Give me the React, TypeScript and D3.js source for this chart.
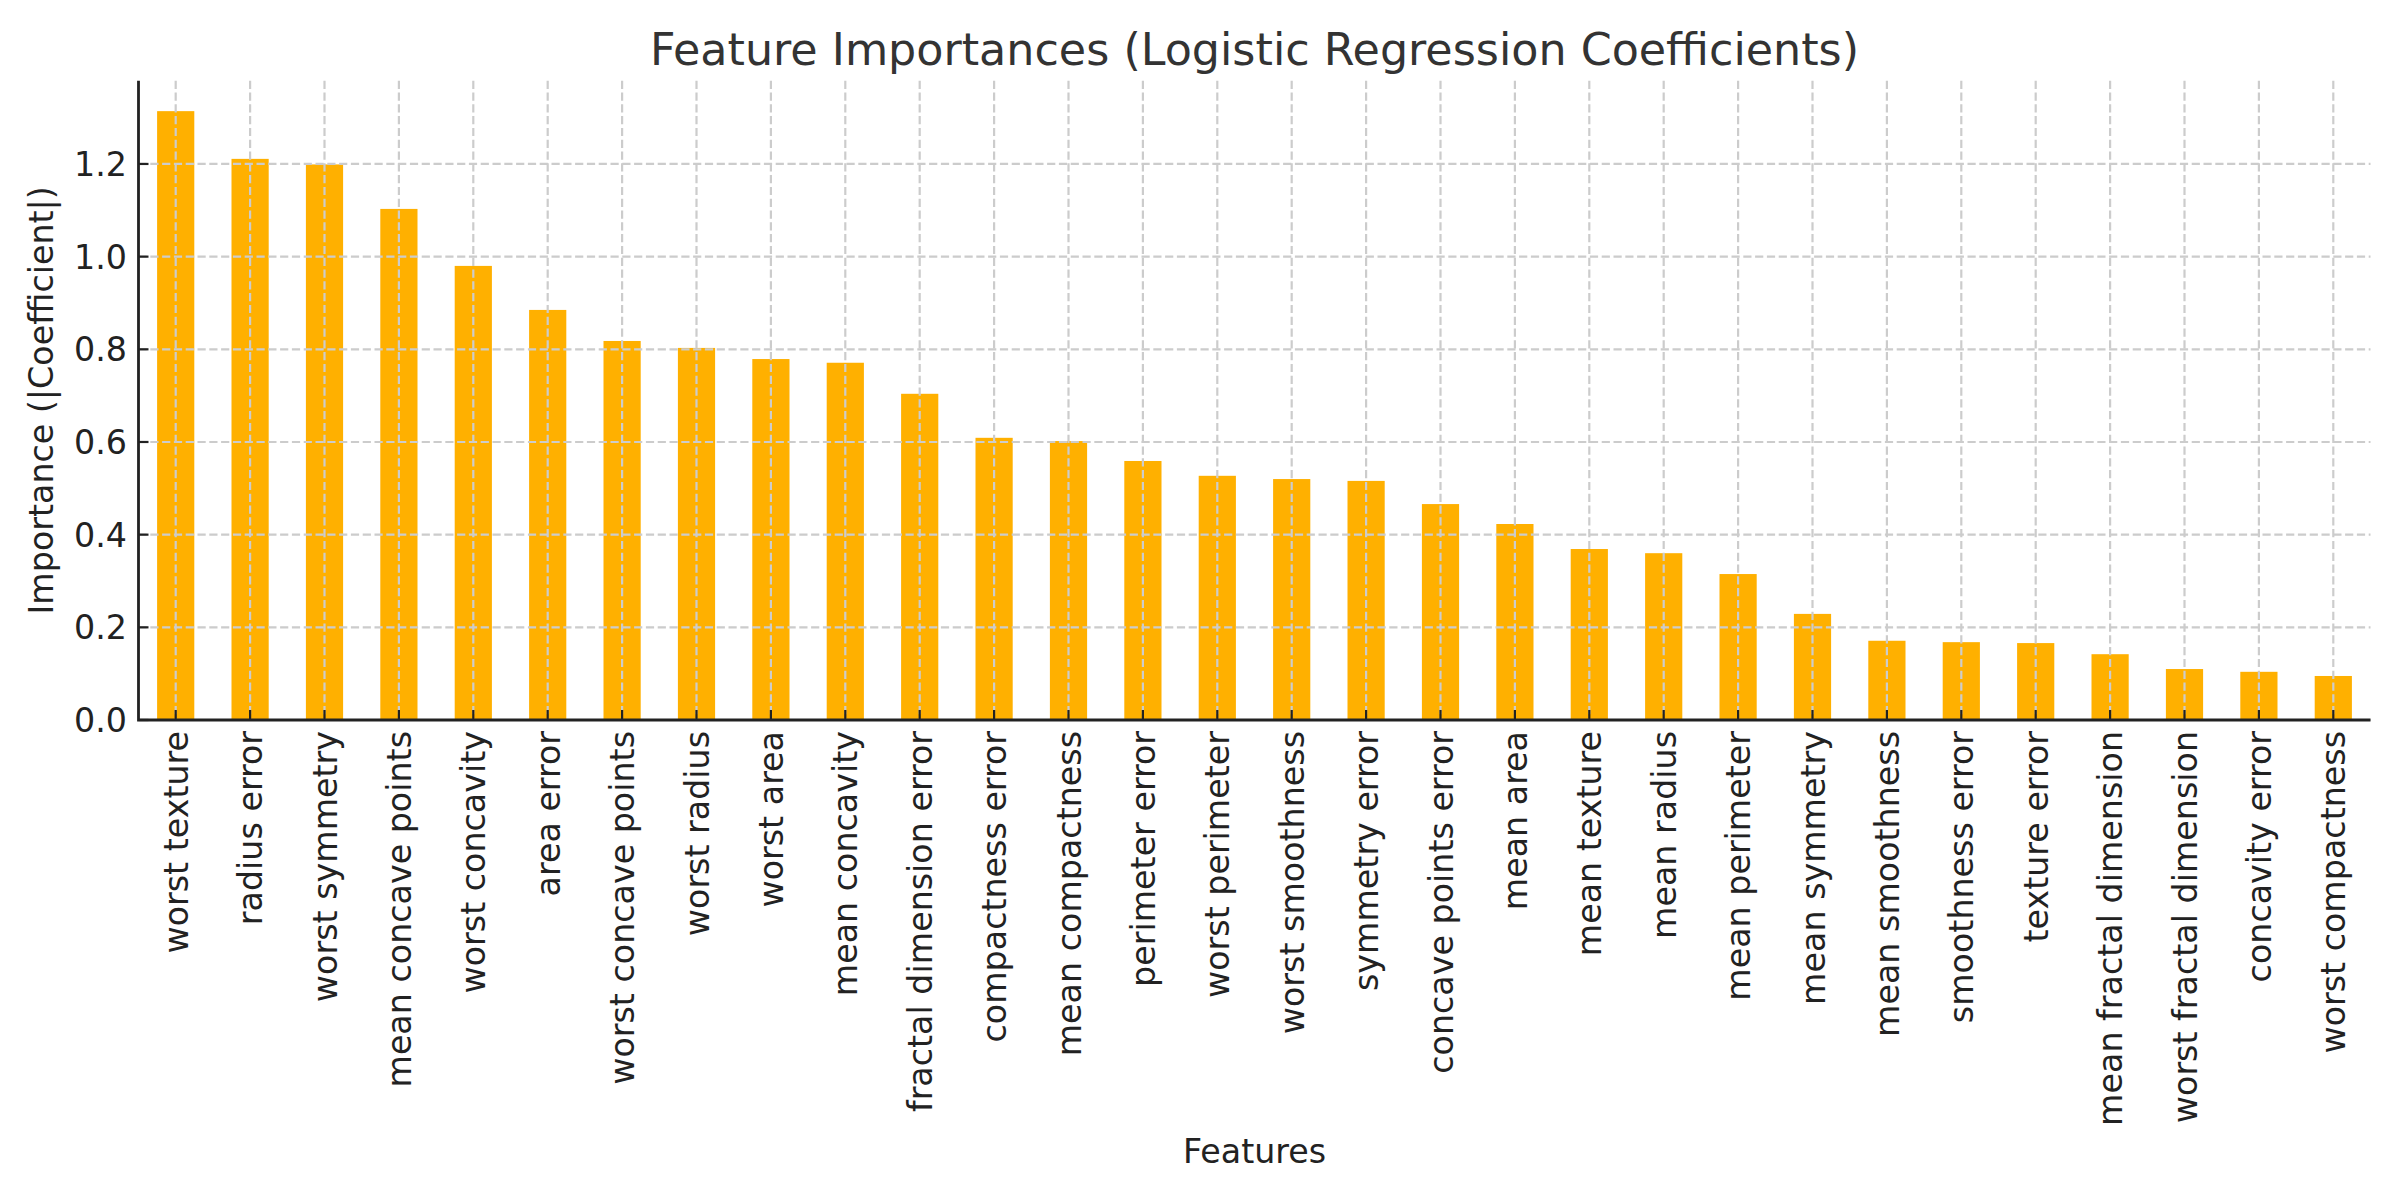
import React, { useEffect, useRef } from "react";
import * as d3 from "d3";

// feature names, sorted by importance
const features = [
  "worst texture",
  "radius error",
  "worst symmetry",
  "mean concave points",
  "worst concavity",
  "area error",
  "worst concave points",
  "worst radius",
  "worst area",
  "mean concavity",
  "fractal dimension error",
  "compactness error",
  "mean compactness",
  "perimeter error",
  "worst perimeter",
  "worst smoothness",
  "symmetry error",
  "concave points error",
  "mean area",
  "mean texture",
  "mean radius",
  "mean perimeter",
  "mean symmetry",
  "mean smoothness",
  "smoothness error",
  "texture error",
  "mean fractal dimension",
  "worst fractal dimension",
  "concavity error",
  "worst compactness",
];

// |coefficient| per feature
const importances = [
  1.314, 1.211, 1.199, 1.103, 0.98, 0.885, 0.818, 0.803, 0.779, 0.771,
  0.704, 0.609, 0.602, 0.559, 0.527, 0.52, 0.516, 0.466, 0.423, 0.369,
  0.36, 0.315, 0.229, 0.171, 0.168, 0.166, 0.142, 0.11, 0.104, 0.095,
];

const yTicks = [0, 0.2, 0.4, 0.6, 0.8, 1.0, 1.2];

const W = 2400;
const H = 1200;
const margin = { left: 138.5, right: 29.5, top: 80.7, bottom: 480 };
const font = "'DejaVu Sans', sans-serif";
const tickSize = 33.3;
const barColor = "#ffb000";
const gridColor = "#cccccc";
const inkColor = "#222222";

export default function App() {
  const ref = useRef<SVGSVGElement>(null);

  useEffect(() => {
    const svg = d3.select(ref.current);
    svg.selectAll("*").remove();

    const x0 = margin.left;
    const x1 = W - margin.right;
    const y0 = H - margin.bottom;
    const y1 = margin.top;

    const x = d3
      .scaleBand<string>()
      .domain(features)
      .range([x0, x1])
      .paddingInner(0.5)
      .paddingOuter(0.25);

    const yMax = (d3.max(importances) as number) * 1.05;
    const y = d3.scaleLinear().domain([0, yMax]).range([y0, y1]);

    const data = features.map((f, i) => ({ name: f, value: importances[i] }));
    const cx = (d: string) => (x(d) as number) + x.bandwidth() / 2;

    // bars
    svg
      .append("g")
      .selectAll("rect")
      .data(data)
      .join("rect")
      .attr("x", d => x(d.name) as number)
      .attr("y", d => y(d.value))
      .attr("width", x.bandwidth())
      .attr("height", d => y0 - y(d.value))
      .attr("fill", barColor);

    // grid (drawn over the bars, like the original)
    const grid = svg
      .append("g")
      .attr("stroke", gridColor)
      .attr("stroke-width", 2.2)
      .attr("stroke-dasharray", "8.2,3.6");

    grid
      .selectAll("line.h")
      .data(yTicks)
      .join("line")
      .attr("class", "h")
      .attr("x1", x0)
      .attr("x2", x1)
      .attr("y1", d => y(d))
      .attr("y2", d => y(d));

    grid
      .selectAll("line.v")
      .data(features)
      .join("line")
      .attr("class", "v")
      .attr("x1", cx)
      .attr("x2", cx)
      .attr("y1", y1)
      .attr("y2", y0);

    // y axis: ticks point inward
    const yAxis = svg.append("g");
    yAxis
      .selectAll("line")
      .data(yTicks)
      .join("line")
      .attr("x1", x0)
      .attr("x2", x0 + 10)
      .attr("y1", d => y(d))
      .attr("y2", d => y(d))
      .attr("stroke", inkColor)
      .attr("stroke-width", 2.2);
    yAxis
      .selectAll("text")
      .data(yTicks)
      .join("text")
      .attr("x", x0 - 11.5)
      .attr("y", d => y(d))
      .attr("dy", "0.36em")
      .attr("text-anchor", "end")
      .attr("font-family", font)
      .attr("font-size", tickSize)
      .attr("fill", inkColor)
      .text(d => d3.format(".1f")(d));

    // x axis
    const xAxis = svg.append("g");
    xAxis
      .selectAll("line")
      .data(features)
      .join("line")
      .attr("x1", cx)
      .attr("x2", cx)
      .attr("y1", y0)
      .attr("y2", y0 - 10)
      .attr("stroke", inkColor)
      .attr("stroke-width", 2.2);
    xAxis
      .selectAll("text")
      .data(features)
      .join("text")
      .attr("transform", d => "translate(" + cx(d) + "," + (y0 + 11) + ") rotate(-90)")
      .attr("dy", "0.36em")
      .attr("text-anchor", "end")
      .attr("font-family", font)
      .attr("font-size", tickSize)
      .attr("fill", inkColor)
      .text(d => d);

    // spines
    svg
      .append("path")
      .attr("d", `M${x0},${y1}V${y0}H${x1}`)
      .attr("fill", "none")
      .attr("stroke", inkColor)
      .attr("stroke-width", 2.8);

    // labels
    svg
      .append("text")
      .attr("x", (x0 + x1) / 2)
      .attr("y", 65)
      .attr("text-anchor", "middle")
      .attr("font-family", font)
      .attr("font-size", 44.4)
      .attr("fill", "#333333")
      .text("Feature Importances (Logistic Regression Coefficients)");

    svg
      .append("text")
      .attr("x", (x0 + x1) / 2)
      .attr("y", 1163)
      .attr("text-anchor", "middle")
      .attr("font-family", font)
      .attr("font-size", 33.3)
      .attr("fill", inkColor)
      .text("Features");

    svg
      .append("text")
      .attr("transform", `translate(53,${(y0 + y1) / 2}) rotate(-90)`)
      .attr("text-anchor", "middle")
      .attr("font-family", font)
      .attr("font-size", 33.3)
      .attr("fill", inkColor)
      .text("Importance (|Coefficient|)");
  }, []);

  return (
    <svg
      ref={ref}
      width={W}
      height={H}
      style={{ position: "absolute", left: 0, top: 0, background: "#fff" }}
    />
  );
}
